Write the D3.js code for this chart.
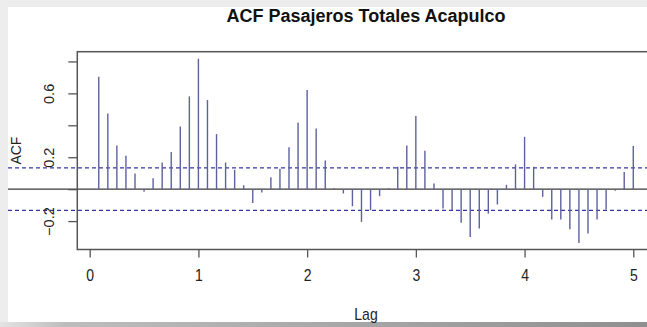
<!DOCTYPE html>
<html><head><meta charset="utf-8">
<script src="https://cdn.jsdelivr.net/npm/d3@7"></script>
<style>html,body{margin:0;padding:0;background:#fff;}svg{display:block;}</style>
</head><body>
<svg id="c" width="647" height="327"></svg>
<script>
const title = "ACF Pasajeros Totales Acapulco";
const xLabel = "Lag";
const yLabel = "ACF";
const lagsPerYear = 12;
const acfValues = [0.704,0.474,0.274,0.209,0.098,-0.017,0.069,0.167,0.232,0.393,0.581,0.817,
  0.558,0.345,0.167,0.121,0.025,-0.086,-0.021,0.075,0.128,0.263,0.418,0.621,
  0.380,0.180,0.005,-0.027,-0.107,-0.205,-0.132,-0.044,0.006,0.140,0.274,0.458,
  0.240,0.036,-0.121,-0.132,-0.211,-0.299,-0.247,-0.153,-0.096,0.027,0.155,0.328,
  0.140,-0.048,-0.190,-0.190,-0.251,-0.337,-0.278,-0.190,-0.127,-0.010,0.107,0.270];
const ciBound = 0.1335;
const xTicks = [0,1,2,3,4,5];
const yTicks = [-0.2,0,0.2,0.4,0.6,0.8];
const yTickLabels = [-0.2,0.2,0.6];

const svg = d3.select("#c");
const W = 647, H = 327;
// frame background
svg.append("rect").attr("x",0).attr("y",0).attr("width",W).attr("height",H).attr("fill","#ededed");
const grad = svg.append("defs").append("linearGradient").attr("id","bg").attr("x1",0).attr("x2",1);
grad.append("stop").attr("offset","0").attr("stop-color","#e4e4e4");
grad.append("stop").attr("offset","0.1").attr("stop-color","#bdbdbd");
grad.append("stop").attr("offset","1").attr("stop-color","#8f8f8f");
svg.append("rect").attr("x",0).attr("y",322).attr("width",W).attr("height",5).attr("fill","url(#bg)");
svg.append("rect").attr("x",8).attr("y",7).attr("width",W-8).attr("height",315).attr("fill","#fff");

const data = acfValues.map((v,i)=>({lag:(i+1)/lagsPerYear, v}));
const x = d3.scaleLinear().domain([-0.114, 5.197]).range([77.3, 654.7]);
const y = d3.scaleLinear().domain([-0.378, 0.861]).range([249.5, 51.7]);

const font = "'Liberation Sans', Arial, sans-serif";

// reference lines extending to left edge
svg.append("line").attr("x1",8).attr("x2",W).attr("y1",y(0)).attr("y2",y(0))
  .attr("stroke","#3a3a3a").attr("stroke-width",1.2);
[ciBound,-ciBound].forEach(c=>{
  svg.append("line").attr("x1",8).attr("x2",W).attr("y1",y(c)).attr("y2",y(c))
    .attr("stroke","#3535a8").attr("stroke-width",1.2).attr("stroke-dasharray","4,3");
});

// bars
svg.append("g").selectAll("line").data(data).join("line")
  .attr("x1",d=>x(d.lag)).attr("x2",d=>x(d.lag))
  .attr("y1",y(0)).attr("y2",d=>y(d.v))
  .attr("stroke","#5d619e").attr("stroke-width",1.4);

// box
svg.append("rect").attr("x",x.range()[0]).attr("y",y.range()[1])
  .attr("width",x.range()[1]-x.range()[0]).attr("height",y.range()[0]-y.range()[1])
  .attr("fill","none").attr("stroke","#555").attr("stroke-width",1.5);

// x axis
const xa = svg.append("g").attr("transform",`translate(0,${y.range()[0]})`)
  .call(d3.axisBottom(x).tickValues(xTicks).tickSize(8).tickFormat(d3.format("d")).tickPadding(10));
xa.select(".domain").remove();
xa.selectAll(".tick line").attr("stroke","#555").attr("stroke-width",1.3);
xa.selectAll(".tick text").attr("font-family",font).attr("font-size",14).attr("fill","#222")
  .attr("transform","scale(1,1.15)").attr("dy","0.66em");

// y axis
const ya = svg.append("g").attr("transform",`translate(${x.range()[0]},0)`)
  .call(d3.axisLeft(y).tickValues(yTicks).tickSize(9).tickFormat(d=>yTickLabels.some(t=>Math.abs(t-d)<1e-9)?d3.format(".1f")(d):""));
ya.select(".domain").remove();
ya.selectAll(".tick line").attr("stroke","#555").attr("stroke-width",1.3);
ya.selectAll(".tick text").attr("font-family",font).attr("font-size",14.5).attr("fill","#222")
  .attr("x",0).attr("dy",0).attr("text-anchor","middle")
  .attr("transform","translate(-28,0) rotate(-90) translate(0,5)");

// labels
svg.append("text").attr("x",366).attr("y",22).attr("text-anchor","middle")
  .attr("font-family",font).attr("font-weight","bold").attr("font-size",18).attr("fill","#111").text(title);
svg.append("text").attr("transform","translate(366,320) scale(1,1.15)").attr("text-anchor","middle")
  .attr("font-family",font).attr("font-size",14).attr("fill","#222").text(xLabel);
svg.append("text").attr("transform",`translate(21,${(y.range()[0]+y.range()[1])/2}) rotate(-90)`).attr("text-anchor","middle")
  .attr("font-family",font).attr("font-size",14).attr("fill","#222").text(yLabel);
</script>
</body></html>
